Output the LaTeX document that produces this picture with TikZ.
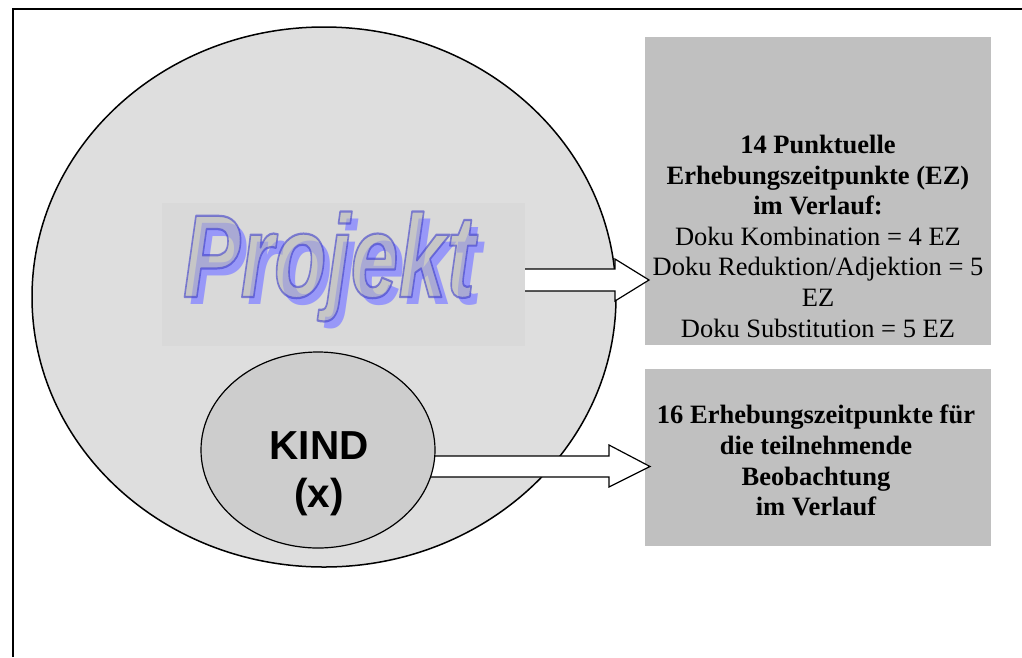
\documentclass[tikz,border=0pt]{standalone}
\usepackage{fontspec}
\setmainfont{Liberation Serif}
\newfontfamily\arialfont{Liberation Sans}
\usetikzlibrary{shapes.geometric,calc}

\definecolor{outerfill}{RGB}{222,222,222}
\definecolor{panelfill}{RGB}{217,217,217}
\definecolor{kindfill}{RGB}{205,205,205}
\definecolor{boxfill}{RGB}{192,192,192}
\definecolor{wordfill}{RGB}{184,184,184}
\definecolor{wordshade}{RGB}{152,152,248}

% outlined word-art lettering: fill plus stroke (text render mode 2)
\newcommand\wordtext{\scalebox{0.73}[1]{\fontsize{118}{118}\arialfont\bfseries\itshape Projekt}}
\newcommand\outlinedword{{\color{wordfill}\special{pdf:literal direct 2 Tr 2.2 w 1 j 0.2 0.2 0.8 RG}\wordtext\special{pdf:literal direct 0 Tr}}}

\tikzset{
  frameline/.style={line width=2pt},
  bigoval/.style={ellipse, draw, line width=1.5pt, fill=outerfill, inner sep=0pt},
  kindoval/.style={ellipse, draw, line width=1.2pt, fill=kindfill, inner sep=0pt},
  greybox/.style={fill=boxfill, inner sep=0pt},
  boxtext/.style={align=center, inner sep=0pt, font=\fontsize{26.5}{30.6}\selectfont},
  blockarrow/.style={draw, fill=white, line width=1.2pt, line join=miter},
}

\begin{document}
\begin{tikzpicture}[x=1pt,y=-1pt]
\useasboundingbox (0,0) rectangle (1022,657);
\fill[white] (0,0) rectangle (1022,657);

% frame (top and left edges)
\draw[frameline] (13,657) -- (13,9) -- (1022,9);

% project oval
\node[bigoval, minimum width=584pt, minimum height=540pt] (projekt) at (324,297) {};

% result boxes
\node[greybox, minimum width=346pt, minimum height=308pt] (boxone) at (818,191) {};
\node[greybox, minimum width=346pt, minimum height=177pt] (boxtwo) at (818,457.5) {};

% block arrows
\coordinate (tipone) at (649,280);
\coordinate (tiptwo) at (650,466.5);
\draw[blockarrow] (520,269) -- (615,269) -- (615,259) -- (tipone) -- (615,301) -- (615,291) -- (520,291);
\draw[blockarrow] (400,456) -- (609,456) -- (609,445) -- (tiptwo) -- (609,487) -- (609,477) -- (400,477) -- cycle;

% child oval
\node[kindoval, minimum width=234pt, minimum height=196pt] (kind) at (318,450) {};
\node[align=center, inner sep=0pt, font=\fontsize{40.5}{48}\arialfont\bfseries, anchor=north] (kindlabel) at (319,431) {KIND\\(x)};

% title panel with lettering
\node[fill=panelfill, minimum width=363pt, minimum height=143pt, inner sep=0pt] (panel) at (343.5,274.5) {};
\node[inner sep=0pt, anchor=base, text=wordshade] (wordshadow) at (336,304) {\wordtext};
\node[inner sep=0pt, anchor=base, text opacity=0.55] (word) at (329,297) {\outlinedword};

% box texts
\node[boxtext, anchor=north] (boxonetext) at (818,135) {\textbf{14 Punktuelle}\\\textbf{Erhebungszeitpunkte (EZ)}\\\textbf{im Verlauf:}\\Doku Kombination = 4 EZ\\Doku Reduktion/Adjektion = 5\\EZ\\Doku Substitution = 5 EZ};
\node[boxtext, anchor=north, font=\fontsize{26.5}{30.7}\selectfont\bfseries] (boxtwotext) at (816,405) {16 Erhebungszeitpunkte für\\die teilnehmende\\Beobachtung\\im Verlauf};
\end{tikzpicture}
\end{document}
